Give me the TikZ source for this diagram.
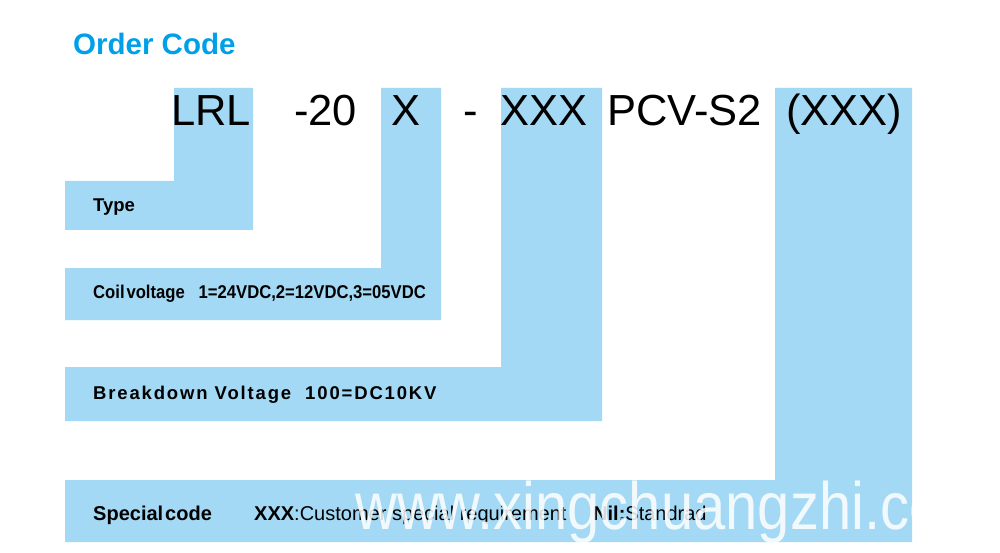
\documentclass[tikz,border=0pt]{standalone}
\usepackage{fontspec}
\setmainfont{Liberation Sans}
\newfontfamily\narrowfont[FakeStretch=0.9]{Liberation Sans}
\newfontfamily\spacedfont[LetterSpace=10]{Liberation Sans}
\newfontfamily\markfont[FakeStretch=0.865]{Liberation Sans}
\definecolor{codeblue}{RGB}{163,217,244}
\definecolor{titleblue}{RGB}{0,160,233}
\tikzset{
	codefield/.style={fill=codeblue, draw=none},
	codetext/.style={anchor=base west, inner sep=0pt, font=\fontsize{43.5}{50}\selectfont},
	fieldtext/.style={anchor=base west, inner sep=0pt, font=\fontsize{18.5}{22}\selectfont\bfseries},
	specialtext/.style={anchor=base west, inner sep=0pt, font=\fontsize{20}{24}\selectfont},
}
\begin{document}
\begin{tikzpicture}[x=1pt,y=1pt,yscale=-1,xscale=1]
	\useasboundingbox (0,0) rectangle (1000,553); %set diagram size to 1000 x 553
	
	%Shape: Type field
	\draw [codefield] (174,88) -- (253,88) -- (253,230) -- (65,230) -- (65,181) -- (174,181) -- cycle ;
	%Shape: Coil voltage field
	\draw [codefield] (381,88) -- (441,88) -- (441,320) -- (65,320) -- (65,268) -- (381,268) -- cycle ;
	%Shape: Breakdown voltage field
	\draw [codefield] (501,88) -- (602,88) -- (602,421) -- (65,421) -- (65,367) -- (501,367) -- cycle ;
	%Shape: Special code field
	\draw [codefield] (775,88) -- (912,88) -- (912,542) -- (65,542) -- (65,480) -- (775,480) -- cycle ;
	
	% Text Node
	\draw (73,55) node (title) [anchor=base west][inner sep=0pt] [font=\fontsize{29.5}{34}\selectfont\bfseries, text=titleblue] {Order Code};
	
	% Text Node
	\draw (171,126) node (lrl) [codetext] {LRL};
	% Text Node
	\draw (294,126) node (twenty) [codetext] {-20};
	% Text Node
	\draw (391,126) node (coilx) [codetext] {X};
	% Text Node
	\draw (463,126) node (dash) [codetext] {-};
	% Text Node
	\draw (500,126) node (breakx) [codetext] {XXX};
	% Text Node
	\draw (607,126) node (pcv) [codetext] {PCV-S2};
	% Text Node
	\draw (786,126) node (specialx) [codetext] {(XXX)};
	
	% Text Node
	\draw (93,212) node (type) [fieldtext] {Type};
	% Text Node
	\draw (93,298) node (coil) [fieldtext] {\narrowfont\bfseries Coil\hspace{0.1em}voltage\ \ \ 1=24VDC,2=12VDC,3=05VDC};
	% Text Node
	\draw (93,399) node (breakdown) [fieldtext] {\spacedfont\bfseries Breakdown Voltage\ \ 100=DC10KV};
	% Text Node
	\draw (93,520) node (special) [specialtext] {\bfseries Special\hspace{0.1em}code};
	% Text Node
	\draw (254,520) node (custom) [specialtext] {\textbf{XXX}:Customer special requirement};
	% Text Node
	\draw (593,520) node (nil) [specialtext] {\textbf{Nil:}Standrad};
	
	% Text Node
	\draw (355,529) node (mark) [anchor=base west][inner sep=0pt] [font=\fontsize{67}{80}\selectfont\markfont, text=white, text opacity=0.85] {www.xingchuangzhi.com};
\end{tikzpicture}
\end{document}
